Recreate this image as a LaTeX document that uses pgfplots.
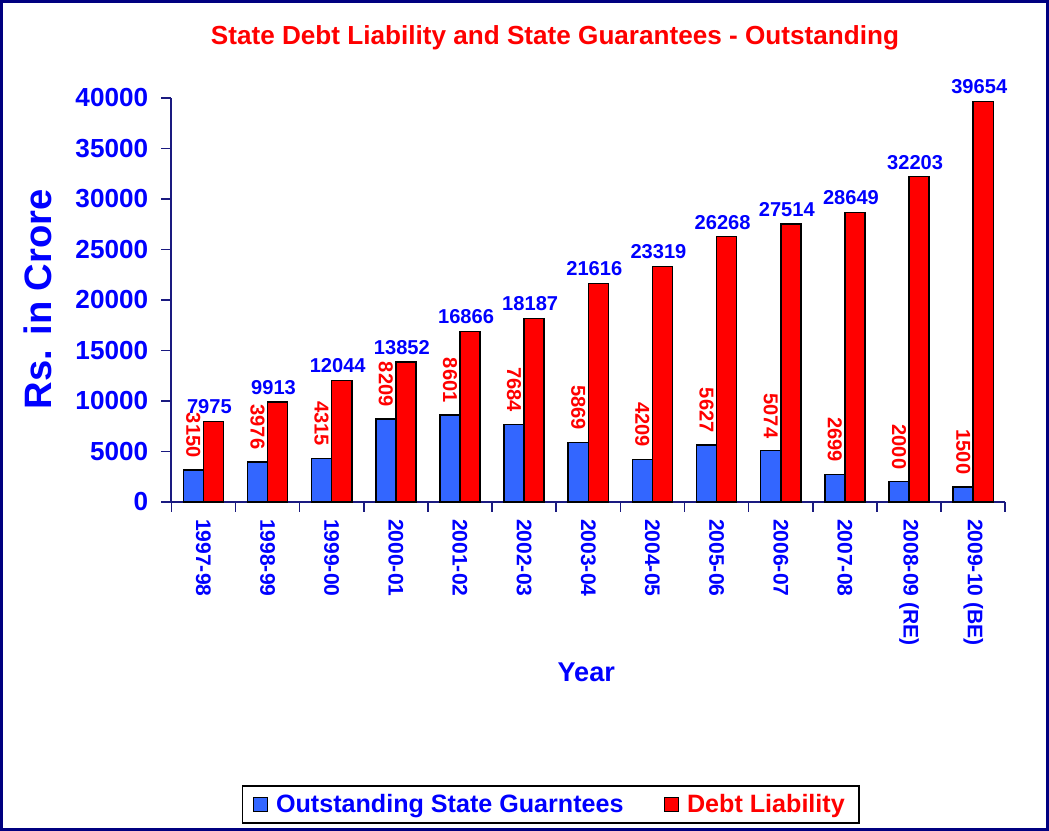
\documentclass[border=0pt]{standalone}
\usepackage{pgfplots}
\pgfplotsset{compat=1.18}
\usepackage{fontspec}
\setmainfont{Liberation Sans}

\definecolor{barblue}{HTML}{3366FF}
\definecolor{barred}{HTML}{FF0000}
\definecolor{txtblue}{HTML}{0000FF}
\definecolor{framenavy}{HTML}{000080}
\definecolor{axisnavy}{HTML}{1A1A80}

\begin{document}
\begin{tikzpicture}[font=\bfseries]
\begin{axis}[
    at={(0,0)}, anchor=south west,
    width=415pt, height=201pt, scale only axis,
    clip=false,
    ybar=0pt, bar width=10pt,
    xmin=-0.5, xmax=12.5, ymin=0, ymax=40000,
    axis lines*=left,
    axis line style={axisnavy, line width=1pt},
    tick align=outside,
    major tick length=5pt,
    minor tick length=5pt,
    xtick={0,...,12},
    xticklabels={1997-98,1998-99,1999-00,2000-01,2001-02,2002-03,2003-04,2004-05,2005-06,2006-07,2007-08,2008-09 (RE),2009-10 (BE)},
    major x tick style={draw=none},
    minor xtick={-0.5,0.5,...,12.5},
    minor x tick style={axisnavy, line width=0.8pt},
    ytick={0,5000,...,40000},
    scaled y ticks=false,
    y tick style={axisnavy, line width=0.8pt},
    /pgf/number format/1000 sep={},
    /pgf/number format/assume math mode=true,
    yticklabel style={txtblue, xshift=-3pt, font=\fontsize{13}{15}\selectfont\bfseries},
    xticklabel style={txtblue, font=\fontsize{10.5}{12}\selectfont\bfseries, rotate=-90, anchor=west},
    title={State Debt Liability and State Guarantees - Outstanding},
    title style={at={(axis description cs:0.46,1.119)}, anchor=center, text=barred, font=\fontsize{13}{15}\selectfont\bfseries},
    ylabel={Rs. in Crore},
    every axis y label/.style={at={(axis description cs:-0.16,0.502)}, rotate=90, anchor=center, text=txtblue, font=\fontsize{19}{22}\selectfont\bfseries},
    xlabel={Year},
    every axis x label/.style={at={(axis description cs:0.4976,-0.423)}, anchor=center, text=txtblue, font=\fontsize{13.5}{16}\selectfont\bfseries},
    legend columns=2,
    legend style={at={(axis description cs:0.455,-0.749)}, anchor=center, draw=black, line width=0.8pt, inner xsep=5pt,
        font=\fontsize{12.5}{14}\selectfont\bfseries,
        /tikz/every even column/.append style={column sep=18pt},
        /tikz/every odd column/.append style={column sep=2pt}},
    legend image code/.code={\draw[#1, line width=0.6pt] (0pt,-3.5pt) rectangle (7pt,3.5pt);},
]
\addplot[fill=barblue, draw=black, line width=0.75pt,
    nodes near coords,
    every node near coord/.append style={text=red, rotate=-90, anchor=east, xshift=-2.5pt, font=\fontsize{10}{12}\selectfont\bfseries}]
    coordinates {(0,3150) (1,3976) (2,4315) (3,8209) (4,8601) (5,7684) (6,5869) (7,4209) (8,5627) (9,5074) (10,2699) (11,2000) (12,1500)};
\addlegendentry{\textcolor{txtblue}{Outstanding State Guarntees}}
\addplot[fill=barred, draw=black, line width=0.75pt,
    nodes near coords,
    every node near coord/.append style={text=txtblue, anchor=south, xshift=-2pt, font=\fontsize{10}{12}\selectfont\bfseries}]
    coordinates {(0,7975) (1,9913) (2,12044) (3,13852) (4,16866) (5,18187) (6,21616) (7,23319) (8,26268) (9,27514) (10,28649) (11,32203) (12,39654)};
\addlegendentry{\textcolor{barred}{Debt Liability}}
\end{axis}
\draw[framenavy, line width=1.5pt] (-84.5pt,-163pt) rectangle (436pt,249pt);
\end{tikzpicture}
\end{document}
